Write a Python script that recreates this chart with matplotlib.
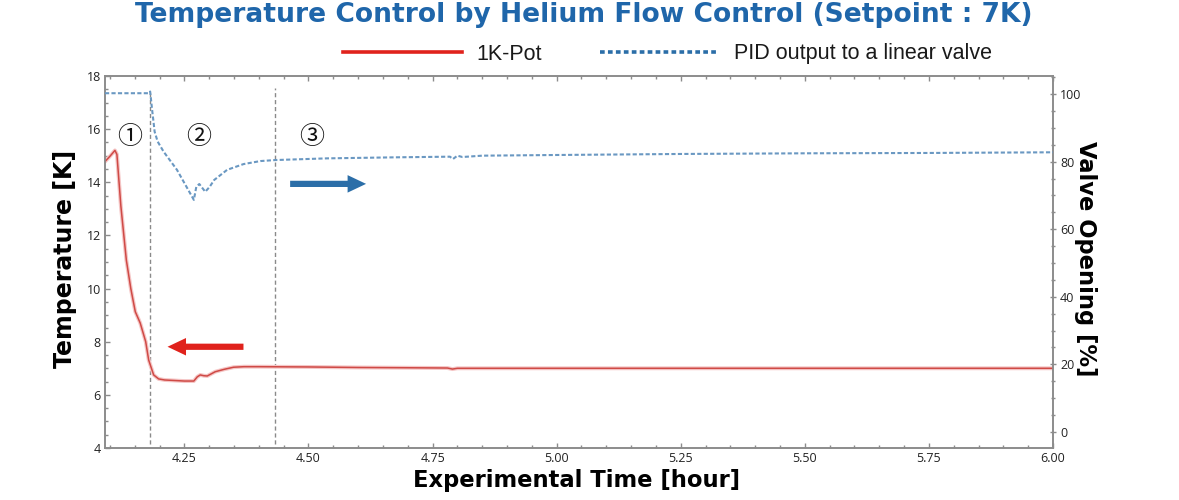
import matplotlib
matplotlib.use("Agg")
import matplotlib.pyplot as plt
from matplotlib.lines import Line2D
from matplotlib.ticker import MultipleLocator

# ---------------- data ----------------
pot_time = [4.090, 4.100, 4.110, 4.114, 4.122, 4.133, 4.142, 4.151, 4.161, 4.172,
            4.178, 4.188, 4.198, 4.210, 4.230, 4.250, 4.269, 4.276, 4.282, 4.289,
            4.296, 4.312, 4.330, 4.349, 4.370, 4.400, 4.500, 4.600, 4.700, 4.780,
            4.790, 4.800, 4.900, 5.000, 5.250, 5.500, 5.750, 6.000]
pot_temp = [14.78, 14.98, 15.20, 15.05, 13.10, 11.07, 10.00, 9.13, 8.70, 8.00,
            7.31, 6.75, 6.60, 6.56, 6.54, 6.52, 6.52, 6.68, 6.75, 6.72,
            6.71, 6.87, 6.96, 7.04, 7.06, 7.06, 7.05, 7.03, 7.02, 7.01,
            6.97, 7.00, 7.00, 7.00, 7.00, 7.00, 7.00, 7.00]

pid_time = [4.090, 4.178, 4.181, 4.185, 4.190, 4.196, 4.208, 4.235, 4.269, 4.274,
            4.280, 4.292, 4.301, 4.310, 4.336, 4.369, 4.403, 4.433, 4.537, 4.671,
            4.785, 4.791, 4.800, 4.810, 4.850, 5.000, 5.247, 5.500, 5.750, 6.000]
pid_valve = [100.3, 100.3, 100.8, 95.3, 88.9, 86.0, 83.0, 77.6, 68.7, 72.6,
             73.4, 71.1, 72.6, 74.6, 77.6, 79.3, 80.2, 80.5, 81.0, 81.3,
             81.5, 80.8, 81.8, 81.4, 81.8, 82.0, 82.3, 82.5, 82.6, 82.8]

phase_bounds = [4.180, 4.433]
phase_labels = ["①", "②", "③"]
phase_label_x = [4.139, 4.278, 4.507]

# ---------------- style ----------------
TICK_FONT = "Open Sans"
BOLD_FONT = "DejaVu Sans"
spine_col = "#8c8c8c"

fig = plt.figure(figsize=(11.79, 5.00), dpi=100)
ax = fig.add_axes([105/1179, 52/500, 948/1179, 372/500])
ax2 = ax.twinx()

# red line with soft glow
ax.plot(pot_time, pot_temp, color="#f5c6c6", lw=2.8, solid_capstyle="round", zorder=2)
ax.plot(pot_time, pot_temp, color="#cf4a46", lw=1.1, zorder=3)

# blue dashed
ax2.plot(pid_time, pid_valve, color="#6a98c2", lw=1.5, dashes=(2.0, 1.1), zorder=3)

# phase boundaries
for xb, top in zip(phase_bounds, [17.36, 17.55]):
    ax.plot([xb, xb], [4.15, top], color="#8a8a8a", lw=1.0, dashes=(3, 2), zorder=1)

for lab, xl in zip(phase_labels, phase_label_x):
    ax.text(xl, 15.72, lab, ha="center", va="center", fontsize=18,
            family=["Noto Sans CJK JP", "DejaVu Sans"], color="#111111")

# arrows
ax.annotate("", xy=(4.616, 13.94), xytext=(4.463, 13.94),
            arrowprops=dict(arrowstyle="simple,head_length=0.95,head_width=0.9,tail_width=0.32",
                            color="#2b6ea8", mutation_scale=14, shrinkA=0, shrinkB=0, lw=0))
ax.annotate("", xy=(4.216, 7.81), xytext=(4.369, 7.81),
            arrowprops=dict(arrowstyle="simple,head_length=0.95,head_width=0.9,tail_width=0.32",
                            color="#e0221c", mutation_scale=14, shrinkA=0, shrinkB=0, lw=0))

# axes limits & ticks
ax.set_xlim(4.09, 6.0)
ax.set_ylim(4, 18)
ax2.set_ylim(-4.8, 105.4)

ax.xaxis.set_major_locator(MultipleLocator(0.25))
ax.xaxis.set_minor_locator(MultipleLocator(0.05))
ax.yaxis.set_major_locator(MultipleLocator(2))
ax.yaxis.set_minor_locator(MultipleLocator(0.5))
ax2.yaxis.set_major_locator(MultipleLocator(20))
ax2.yaxis.set_minor_locator(MultipleLocator(5))
ax.xaxis.set_major_formatter(matplotlib.ticker.FormatStrFormatter("%.2f"))

ax.tick_params(axis="both", which="both", direction="in", color=spine_col,
               labelcolor="#222222", labelsize=9, top=True, right=False)
ax.tick_params(which="major", length=3.5, width=1)
ax.tick_params(which="minor", length=2.5, width=1)
ax.tick_params(axis="x", pad=3)
ax.tick_params(axis="y", pad=3)
ax2.tick_params(axis="y", which="both", direction="inout", color=spine_col,
                labelcolor="#222222", labelsize=9, pad=3)
ax2.tick_params(which="major", length=4, width=1)
ax2.tick_params(which="minor", length=3, width=1)

for a in (ax, ax2):
    for lbl in a.get_xticklabels() + a.get_yticklabels():
        lbl.set_family(TICK_FONT)
    for s in a.spines.values():
        s.set_color(spine_col)
        s.set_linewidth(1.2)

# labels
fig.text(583.5/1179, 1 - 22/500, "Temperature Control by Helium Flow Control (Setpoint : 7K)",
         ha="center", va="baseline", fontsize=19.1, fontweight="bold",
         family=BOLD_FONT, color="#1f66aa")
fig.text(576.5/1179, 1 - 487/500, "Experimental Time [hour]", ha="center", va="baseline",
         fontsize=16.25, fontweight="bold", family=BOLD_FONT, color="black")
fig.text(65/1179, 1 - 259/500, "Temperature [K]", ha="center", va="center", rotation=90,
         fontsize=17.0, fontweight="bold", family=BOLD_FONT, color="black")
fig.text(1085/1179, 1 - 259/500, "Valve Opening [%]", ha="center", va="center", rotation=-90,
         fontsize=16.3, fontweight="bold", family=BOLD_FONT, color="black")

# legend
handles = [Line2D([], [], color="#e0221c", lw=2.6),
           Line2D([], [], color="#2b6ea8", lw=2.6, dashes=(1.3, 0.9))]
leg = fig.legend(handles, ["1K-Pot", "PID output to a linear valve"], ncol=2,
                 loc="center", bbox_to_anchor=(667.5/1179, 1 - 54/500), frameon=False,
                 prop={"family": "Liberation Sans", "size": 15.5},
                 handlelength=5.5, handletextpad=0.7, columnspacing=2.7)
for t in leg.get_texts():
    t.set_color("#1a1a1a")

fig.savefig("out.png", dpi=100)
